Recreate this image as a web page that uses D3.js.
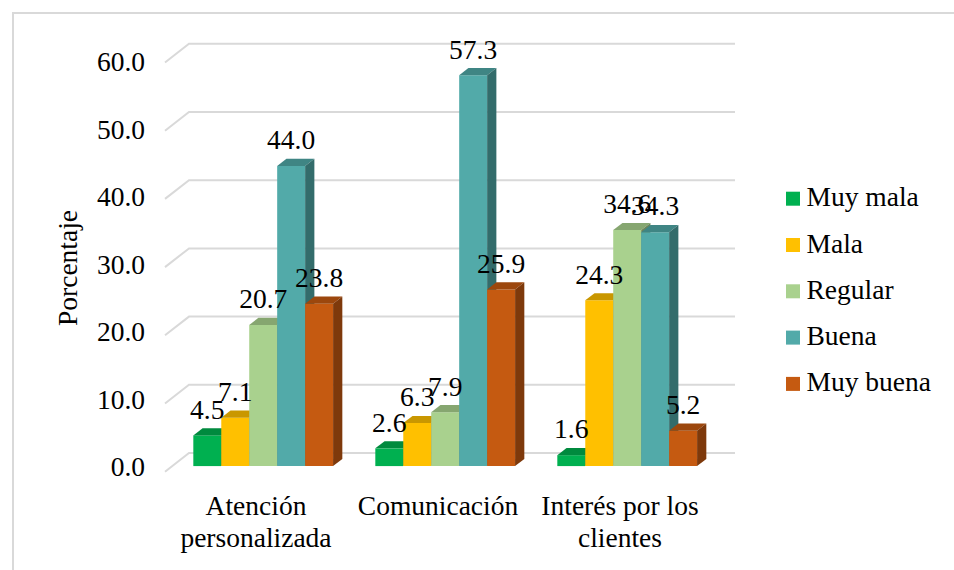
<!DOCTYPE html>
<html>
<head>
<meta charset="utf-8">
<script src="https://cdn.jsdelivr.net/npm/d3@7"></script>
<style>
  body { margin: 0; background: #fff; }
  svg { display: block; }
  text { font-family: "Liberation Serif", "Times New Roman", serif; fill: #000; }
</style>
</head>
<body>
<svg id="chart" width="954" height="570"></svg>
<script>
// ---- data ----
const categories = ["Atención personalizada", "Comunicación", "Interés por los clientes"];
const categoryLines = [["Atención", "personalizada"], ["Comunicación"], ["Interés por los", "clientes"]];
const series = ["Muy mala", "Mala", "Regular", "Buena", "Muy buena"];
const muyMala  = [4.5, 2.6, 1.6];
const mala     = [7.1, 6.3, 24.3];
const regular  = [20.7, 7.9, 34.6];
const buena    = [44.0, 57.3, 34.3];
const muyBuena = [23.8, 25.9, 5.2];
const yTicks = [0, 10, 20, 30, 40, 50, 60];
const yTitle = "Porcentaje";

const values = [muyMala, mala, regular, buena, muyBuena];
const frontColors = ["#00B050", "#FFC000", "#A9D18E", "#52AAA9", "#C55A11"];
const topColors   = ["#008A3E", "#C99700", "#86A670", "#3F8584", "#9C470D"];
const sideColors  = ["#006E31", "#A07800", "#6C8659", "#336C6B", "#7E390B"];

// ---- layout ----
const svg = d3.select("#chart");
const W = 954, H = 570;
const FONT = 27.5;

// chart area frame
svg.append("rect")
  .attr("x", 13).attr("y", 13)
  .attr("width", W).attr("height", H)
  .attr("fill", "#fff").attr("stroke", "#D9D9D9").attr("stroke-width", 2);

// oblique projection: floor-front x, value, depth z (0 = front edge, 1 = back wall)
const DEPTH_DX = 24, DEPTH_DY = 18.7;
const y = d3.scaleLinear().domain([0, 60]).range([471.7, 62.5]);
const yLabel = d3.scaleLinear().domain([0, 60]).range([467, 62]);
const x0 = d3.scaleBand().domain(categories).range([165, 711])
  .paddingInner(0.232).paddingOuter(0.116);
const x1 = d3.scaleBand().domain(series).range([0, x0.bandwidth()]);
const proj = (xf, v, z) => [xf + z * DEPTH_DX, y(v) - z * DEPTH_DY];
const Z_FRONT = 0.3, Z_BACK = 0.685;

// gridlines: side wall diagonal + back wall horizontal
const grid = svg.append("g");
yTicks.forEach(t => {
  const pts = [proj(165, t, 0), proj(165, t, 1), proj(711, t, 1)];
  grid.append("polyline")
    .attr("points", pts.map(p => p.join(",")).join(" "))
    .attr("fill", "none").attr("stroke", "#D9D9D9").attr("stroke-width", 2);
});

// y-axis tick labels
const axis = svg.append("g")
  .attr("transform", "translate(145,0)")
  .call(d3.axisLeft(yLabel).tickValues(yTicks).tickSize(0).tickPadding(0).tickFormat(d3.format(".1f")));
axis.select(".domain").remove();
axis.selectAll("text")
  .attr("font-size", FONT).attr("fill", "#000");

// y title
svg.append("text")
  .attr("transform", "translate(77,268) rotate(-90)")
  .attr("text-anchor", "middle")
  .attr("font-size", FONT)
  .text(yTitle);

function label(parent, x, yy, str, anchor) {
  return parent.append("text")
    .attr("x", x).attr("y", yy)
    .attr("text-anchor", anchor || "middle")
    .attr("font-size", FONT)
    .text(str);
}

// bars, painted left to right
const bars = svg.append("g");
const labels = svg.append("g");
const poly = pts => pts.map(p => p.join(",")).join(" ");
categories.forEach((c, ci) => {
  series.forEach((s, si) => {
    const v = values[si][ci];
    const xl = x0(c) + x1(s), xr = xl + x1.bandwidth();
    const g = bars.append("g");
    g.append("polygon").attr("fill", frontColors[si])
      .attr("points", poly([proj(xl, v, Z_FRONT), proj(xr, v, Z_FRONT), proj(xr, 0, Z_FRONT), proj(xl, 0, Z_FRONT)]));
    g.append("polygon").attr("fill", topColors[si])
      .attr("points", poly([proj(xl, v, Z_FRONT), proj(xr, v, Z_FRONT), proj(xr, v, Z_BACK), proj(xl, v, Z_BACK)]));
    g.append("polygon").attr("fill", sideColors[si])
      .attr("points", poly([proj(xr, 0, Z_FRONT), proj(xr, v, Z_FRONT), proj(xr, v, Z_BACK), proj(xr, 0, Z_BACK)]));
    const top = proj((xl + xr) / 2, v, Z_FRONT);
    label(labels, top[0], top[1] - 16.7, d3.format(".1f")(v));
  });
});

// category labels
const cats = svg.append("g");
categories.forEach((c, ci) => {
  const cx = x0(c) + x0.bandwidth() / 2;
  categoryLines[ci].forEach((line, li) => {
    label(cats, cx, 515 + li * 32, line);
  });
});

// legend
const legend = svg.append("g");
series.forEach((s, si) => {
  const ty = 191.7 + si * 46.3;
  legend.append("rect").attr("x", 786).attr("y", ty).attr("width", 14).attr("height", 14)
    .attr("fill", frontColors[si]);
  label(legend, 806.5, ty + 14.5, s, "start");
});
</script>
</body>
</html>
